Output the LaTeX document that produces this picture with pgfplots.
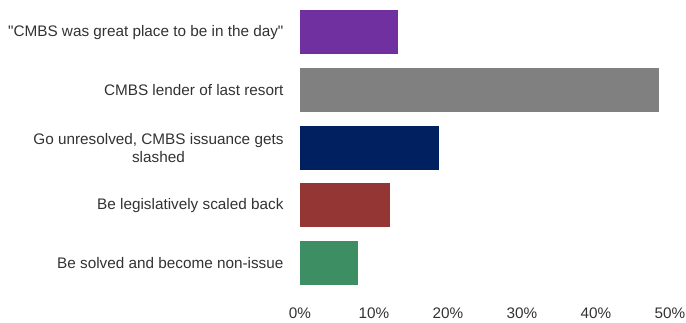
\documentclass[border=0pt]{standalone}
\usepackage{fontspec}
\setmainfont{Liberation Sans}[Ligatures=TeXOff]
\usepackage{pgfplots}
\pgfplotsset{compat=1.18}
\definecolor{cpurple}{RGB}{112,48,160}
\definecolor{cgray}{RGB}{128,128,128}
\definecolor{cnavy}{RGB}{0,32,96}
\definecolor{cred}{RGB}{148,54,52}
\definecolor{cgreen}{RGB}{62,142,99}
\definecolor{ctext}{RGB}{50,50,50}
\begin{document}
\begin{tikzpicture}
\begin{axis}[
  name=ax,
  scale only axis,
  width=370pt, height=288.5pt,
  xmin=0, xmax=50, ymin=-0.5, ymax=4.5,
  y dir=reverse,
  xbar, bar width=44pt,
  axis line style={draw=none},
  major tick length=0pt,
  xtick={0,10,20,30,40,50},
  xticklabel={\pgfmathprintnumber{\tick}\%},
  /pgf/number format/assume math mode=true,
  ytick={0,1,2,3,4},
  yticklabels={{"CMBS was great place to be in the day"},{CMBS lender of last resort},{Go unresolved, CMBS issuance gets\\slashed},{Be legislatively scaled back},{Be solved and become non-issue}},
  font=\fontsize{15.3}{18}\selectfont,
  yticklabel style={align=center, text=ctext, xshift=-13pt},
  xticklabel style={text=ctext, yshift=-12pt},
  every axis plot/.append style={bar shift=0pt, draw=none},
]
\addplot[fill=cpurple] coordinates {(13.2,0)};
\addplot[fill=cgray] coordinates {(48.5,1)};
\addplot[fill=cnavy] coordinates {(18.8,2)};
\addplot[fill=cred] coordinates {(12.2,3)};
\addplot[fill=cgreen] coordinates {(7.8,4)};
\end{axis}
\pgfresetboundingbox
\path[use as bounding box] ([xshift=-300pt,yshift=-31pt]ax.south west) rectangle ([xshift=386pt,yshift=3.5pt]ax.north west);
\end{tikzpicture}
\end{document}
